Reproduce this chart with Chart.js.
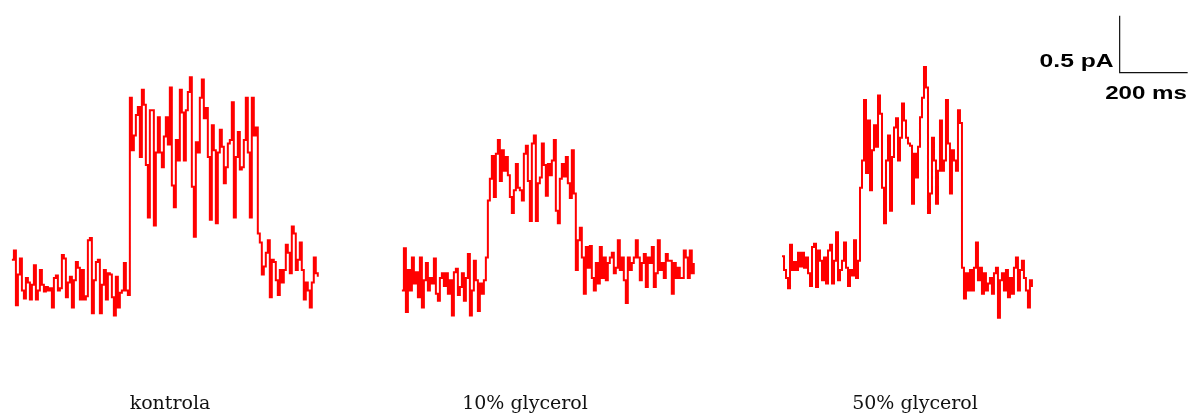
<!DOCTYPE html>
<html>
<head>
<meta charset="utf-8">
<script src="https://cdn.jsdelivr.net/npm/chart.js@4"></script>
<style>
  html, body { margin: 0; padding: 0; background: #fff; }
  canvas { display: block; }
</style>
</head>
<body>
<canvas id="myChart" width="1188" height="414"></canvas>
<script>
// single channel current recordings, pA relative to closed level, one sample every 5.88 ms
var sampleMs = 5.88;

var traceNames = ['kontrola', '10% glycerol', '50% glycerol'];

var kontrola = [
  0.24, 0.32, -0.16, 0.11, 0.25, -0.03, -0.10, 0.08, 0.04, -0.11,
  0.02, 0.19, -0.11, -0.03, 0.15, 0.02, -0.04, 0.00, -0.03, -0.01,
  -0.18, 0.08, 0.10, -0.03, -0.01, 0.28, 0.25, -0.09, 0.04, 0.09,
  -0.18, 0.06, 0.22, 0.17, -0.11, 0.15, -0.11, -0.08, 0.41, 0.43,
  -0.23, 0.06, 0.22, 0.24, -0.23, 0.02, 0.15, -0.11, 0.12, 0.11,
  -0.09, -0.25, 0.09, -0.18, -0.05, -0.03, 0.21, -0.03, -0.07,
  1.66, 1.20, 1.33, 1.51, 1.58, 1.14, 1.73, 1.60, 1.07, 0.61,
  1.55, 1.55, 0.54, 1.18, 1.49, 1.18, 1.05, 1.32, 1.49, 1.25,
  1.75, 0.89, 0.70, 1.29, 1.11, 1.73, 1.53, 1.11, 1.55, 1.71,
  1.84, 0.88, 0.44, 1.27, 1.18, 1.66, 1.82, 1.48, 1.57, 1.14,
  0.59, 1.42, 1.20, 0.56, 1.18, 1.38, 1.23, 0.91, 1.05, 1.26,
  1.29, 1.62, 0.61, 1.14, 1.36, 1.03, 1.05, 1.29, 1.66, 1.18,
  0.61, 1.66, 1.33, 1.40, 0.47,
  0.39, 0.11, 0.18, 0.30, 0.41, -0.09, 0.24, 0.22, 0.06, -0.07,
  0.15, 0.04, 0.15, 0.37, 0.30, 0.12, 0.53, 0.47, 0.15, 0.24,
  0.39, 0.15, -0.11, 0.04, -0.03, -0.18, 0.04, 0.26, 0.12, 0.09
];

var glycerol10 = [
  -0.07, 0.30, -0.26, 0.11, -0.07, 0.22, -0.01, 0.09, -0.13, 0.22,
  -0.22, 0.02, 0.17, -0.07, 0.04, -0.01, 0.21, -0.10, -0.16, 0.04,
  0.08, -0.03, 0.08, -0.10, 0.02, -0.29, 0.09, 0.12, -0.11, -0.04,
  0.08, -0.16, 0.04, 0.25, -0.29, -0.07, 0.19, 0.02, -0.25, -0.01,
  -0.10, 0.02, 0.22,
  0.72, 0.91, 1.11, 0.75, 1.13, 1.25, 0.89, 1.16, 0.98, 1.10,
  0.94, 0.75, 0.61, 0.81, 1.04, 0.83, 0.81, 0.72, 1.13, 1.20,
  0.89, 0.54, 1.22, 1.29, 0.54, 0.87, 0.92, 1.22, 1.03, 0.76,
  1.04, 0.94, 1.07, 1.25, 0.63, 0.52, 0.91, 1.04, 0.93, 1.10,
  0.87, 0.74, 1.16, 0.78,
  0.11, 0.37, 0.48, 0.22, -0.10, 0.31, 0.13, 0.32, 0.04, -0.07,
  0.17, -0.01, 0.31, 0.04, 0.22, 0.02, 0.17, 0.22, 0.26, 0.08,
  0.13, 0.37, 0.11, 0.22, 0.02, -0.18, 0.22, 0.11, 0.17, 0.22,
  0.37, 0.22, 0.02, 0.17, 0.25, -0.04, 0.22, 0.17, 0.31, -0.04,
  0.08, 0.37, 0.11, 0.17, 0.04, 0.25, 0.19, 0.19, -0.10, 0.17,
  0.04, 0.13, 0.04, 0.04, 0.28, 0.22, 0.04, 0.28, 0.08, 0.17
];

var glycerol50 = [
  0.08, -0.04, -0.11, -0.20, 0.18, -0.04, 0.03, -0.04, 0.11, -0.01,
  0.11, -0.02, 0.07, -0.07, -0.18, 0.16, 0.19, -0.19, 0.13, 0.04,
  -0.13, 0.07, -0.16, 0.13, 0.18, -0.16, 0.04, 0.29, -0.13, -0.04,
  0.04, 0.20, -0.02, -0.18, -0.04, -0.09, 0.22, -0.11, 0.04,
  0.68, 0.92, 1.45, 0.81, 1.27, 0.66, 1.01, 1.23, 1.04, 1.49,
  1.33, 0.68, 0.37, 0.92, 1.14, 0.48, 0.95, 1.21, 1.29, 0.92,
  1.12, 1.42, 1.27, 1.12, 1.07, 1.05, 0.54, 0.98, 0.77, 1.04,
  1.30, 1.47, 1.74, 1.56, 0.46, 0.63, 1.12, 0.92, 0.54, 0.83,
  1.27, 0.83, 0.92, 1.45, 1.07, 0.63, 1.01, 0.92, 0.83, 1.36,
  1.25,
  -0.02, -0.29, -0.07, -0.22, -0.04, -0.22, -0.02, 0.20, -0.13, -0.02,
  -0.25, -0.07, -0.22, -0.16, -0.11, -0.25, -0.07, -0.02, -0.46, -0.13,
  -0.07, -0.22, -0.04, -0.28, -0.11, -0.25, -0.02, 0.07, -0.22, -0.04,
  0.04, -0.11, -0.22, -0.37, -0.13, -0.19
];

var traces = [kontrola, glycerol10, glycerol50];

// where each recording sits on the shared canvas
var traceStartMs = [35, 1182, 2300];
var traceShift = [0, 0.04, 0.19];
var labelCenters = [170, 525, 915];

// calibration bar: 200 ms by 0.5 pA
var barTime = 200;
var barCurrent = 0.5;
var barOrigin = { x: 3293, y: 1.88 };

function toPoints(values, start, shift) {
  return values.map(function (v, i) {
    return { x: start + i * sampleMs, y: v + shift };
  });
}

function drawStretched(ctx, text, x, y, align, sx) {
  ctx.save();
  ctx.translate(x, y);
  ctx.scale(sx, 1);
  ctx.textAlign = align;
  ctx.fillText(text, 0, 0);
  ctx.restore();
}

var labelsPlugin = {
  id: 'traceLabels',
  afterDraw: function (chart) {
    var ctx = chart.ctx;
    ctx.save();
    ctx.fillStyle = '#111';
    ctx.textBaseline = 'alphabetic';
    ctx.font = '19px "DejaVu Serif"';
    traceNames.forEach(function (name, i) {
      drawStretched(ctx, name, labelCenters[i], 409, 'center', 1);
    });

    var xs = chart.scales.x, ys = chart.scales.y;
    var bx = xs.getPixelForValue(barOrigin.x);
    var by = ys.getPixelForValue(barOrigin.y);
    ctx.fillStyle = '#000';
    ctx.font = 'bold 19px "Liberation Sans"';
    drawStretched(ctx, barCurrent + ' pA', bx - 6, by - 6, 'right', 1.3);
    drawStretched(ctx, barTime + ' ms', chart.width - 1, by + 26, 'right', 1.27);
    ctx.restore();
  }
};

function one() {
  var ctx = document.getElementById('myChart').getContext('2d');
  var datasets = traces.map(function (values, i) {
    return {
      label: traceNames[i],
      data: toPoints(values, traceStartMs[i], traceShift[i]),
      borderColor: '#ff0000',
      borderWidth: 2,
      pointRadius: 0,
      stepped: true,
      fill: false
    };
  });
  datasets.push({
    label: 'scale',
    data: [
      { x: barOrigin.x, y: barOrigin.y + barCurrent },
      { x: barOrigin.x, y: barOrigin.y },
      { x: barOrigin.x + barTime, y: barOrigin.y }
    ],
    borderColor: '#111',
    borderWidth: 1.2,
    pointRadius: 0,
    fill: false
  });

  var config = {
    type: 'line',
    data: { datasets: datasets },
    options: {
      responsive: false,
      animation: false,
      devicePixelRatio: 1,
      layout: { padding: 0 },
      plugins: {
        legend: { display: false },
        tooltip: { enabled: false }
      },
      scales: {
        x: { type: 'linear', min: 0, max: 3494, display: false },
        y: { type: 'linear', min: -1.114, max: 2.518, display: false }
      }
    },
    plugins: [labelsPlugin]
  };
  var myChart = new Chart(ctx, config);
}

window.onload = function () {
  one();
};
</script>
</body>
</html>
